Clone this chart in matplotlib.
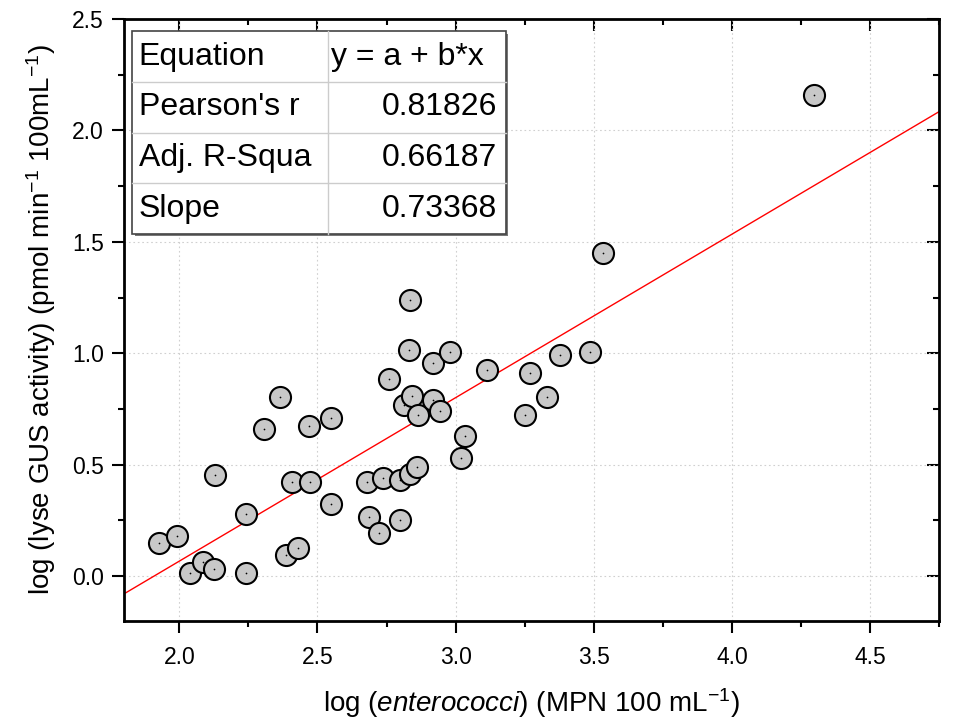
import numpy as np
import matplotlib
matplotlib.use('Agg')
import matplotlib.pyplot as plt
from matplotlib.ticker import MultipleLocator
from matplotlib.patches import Rectangle

plt.rcParams['font.family'] = ['Liberation Sans', 'DejaVu Sans']
plt.rcParams['mathtext.fontset'] = 'custom'
plt.rcParams['mathtext.rm'] = 'Liberation Sans'
plt.rcParams['mathtext.it'] = 'Liberation Sans:italic'

# log enterococci (x) vs log lyse GUS activity (y)
x = [1.927, 1.990, 2.039, 2.085, 2.125, 2.130, 2.241, 2.241, 2.307, 2.365,
     2.385, 2.428, 2.408, 2.473, 2.468, 2.549, 2.549, 2.680, 2.685, 2.723,
     2.736, 2.760, 2.800, 2.799, 2.833, 2.860, 2.833, 2.831, 2.813, 2.843,
     2.865, 2.919, 2.919, 2.944, 2.980, 3.033, 3.019, 3.112, 3.251, 3.268,
     3.330, 3.376, 3.487, 3.532, 4.298]
y = [0.150, 0.182, 0.014, 0.064, 0.031, 0.452, 0.016, 0.277, 0.661, 0.806,
     0.096, 0.125, 0.422, 0.421, 0.676, 0.325, 0.711, 0.421, 0.264, 0.192,
     0.439, 0.886, 0.433, 0.253, 0.457, 0.488, 1.241, 1.016, 0.770, 0.809,
     0.721, 0.957, 0.792, 0.741, 1.004, 0.630, 0.530, 0.927, 0.724, 0.911,
     0.805, 0.993, 1.008, 1.451, 2.160]

intercept = -1.40
slope = 0.73368

stat_names = ['Equation', "Pearson's r", 'Adj. R-Squa', 'Slope']
stat_values = ['y = a + b*x', '0.81826', '0.66187', '0.73368']

fig = plt.figure(figsize=(9.54, 7.26), dpi=100)
ax = fig.add_axes([0.130, 0.145, 0.8546, 0.8288])

ax.set_xlim(1.8, 4.75)
ax.set_ylim(-0.2, 2.5)

ax.grid(True, which='major', ls=(0, (1.5, 2.5)), color='#d0d0d0', lw=0.8)
ax.set_axisbelow(True)

ax.scatter(x, y, s=230, facecolor='#c8c8c8', edgecolor='black', lw=1.5, zorder=3)
ax.scatter(x, y, s=1.5, color='black', zorder=4, lw=0)

xl = np.array([1.8, 4.75])
ax.plot(xl, intercept + slope * xl, color='red', lw=1.0, zorder=2)

ax.xaxis.set_major_locator(MultipleLocator(0.5))
ax.xaxis.set_minor_locator(MultipleLocator(0.25))
ax.yaxis.set_major_locator(MultipleLocator(0.5))
ax.yaxis.set_minor_locator(MultipleLocator(0.25))
ax.xaxis.set_major_formatter(plt.FormatStrFormatter('%.1f'))
ax.yaxis.set_major_formatter(plt.FormatStrFormatter('%.1f'))
ax.tick_params(which='major', direction='out', length=8.5, width=1.5, labelsize=16.5)
ax.tick_params(which='minor', direction='out', length=4.5, width=1.5)
ax.tick_params(axis='x', pad=10)
ax.tick_params(axis='y', pad=6)
for s in ax.spines.values():
    s.set_linewidth(2)

# inward ticks on top and right
top = ax.secondary_xaxis('top')
right = ax.secondary_yaxis('right')
for sec in (top, right):
    sec.spines[:].set_linewidth(0)
top.xaxis.set_major_locator(MultipleLocator(0.5))
top.xaxis.set_minor_locator(MultipleLocator(0.25))
right.yaxis.set_major_locator(MultipleLocator(0.5))
right.yaxis.set_minor_locator(MultipleLocator(0.25))
top.tick_params(which='major', direction='in', length=8.5, width=1.5, labeltop=False)
top.tick_params(which='minor', direction='in', length=4.5, width=1.5)
right.tick_params(which='major', direction='in', length=8.5, width=1.5, labelright=False)
right.tick_params(which='minor', direction='in', length=4.5, width=1.5)

ax.set_xlabel(r'log ($\it{enterococci}$) (MPN 100 mL$^{\rm{-1}}$)', fontsize=20, labelpad=12)
ax.set_ylabel(r'log (lyse GUS activity) (pmol min$^{\rm{-1}}$ 100mL$^{\rm{-1}}$)', fontsize=20, labelpad=10)

# statistics table
tx0, tx1, tsplit = 0.0102, 0.468, 0.2498
ty0, ty1 = 0.6427, 0.9796
rh = (ty1 - ty0) / len(stat_names)
ax.add_patch(Rectangle((tx0 + 0.003, ty0 - 0.004), tx1 - tx0, ty1 - ty0,
                       transform=ax.transAxes, facecolor='#777777', edgecolor='none', zorder=5))
ax.add_patch(Rectangle((tx0, ty0), tx1 - tx0, ty1 - ty0, transform=ax.transAxes,
                       facecolor='white', edgecolor='#444444', lw=1.2, zorder=6))
ax.plot([tsplit, tsplit], [ty0, ty1], transform=ax.transAxes, color='#cccccc', lw=1, zorder=7)
for i in range(1, len(stat_names)):
    yy = ty1 - i * rh
    ax.plot([tx0, tx1], [yy, yy], transform=ax.transAxes, color='#cccccc', lw=1, zorder=7)
for i, (nm, val) in enumerate(zip(stat_names, stat_values)):
    yc = ty1 - (i + 0.5) * rh
    ax.text(tx0 + 0.008, yc, nm, transform=ax.transAxes, fontsize=23,
            va='center', ha='left', zorder=8)
    if i == 0:
        ax.text(tsplit + 0.004, yc, val, transform=ax.transAxes, fontsize=23,
                va='center', ha='left', zorder=8)
    else:
        ax.text(tx1 - 0.01, yc, val, transform=ax.transAxes, fontsize=23,
                va='center', ha='right', zorder=8)

fig.savefig('out.png', dpi=100)
